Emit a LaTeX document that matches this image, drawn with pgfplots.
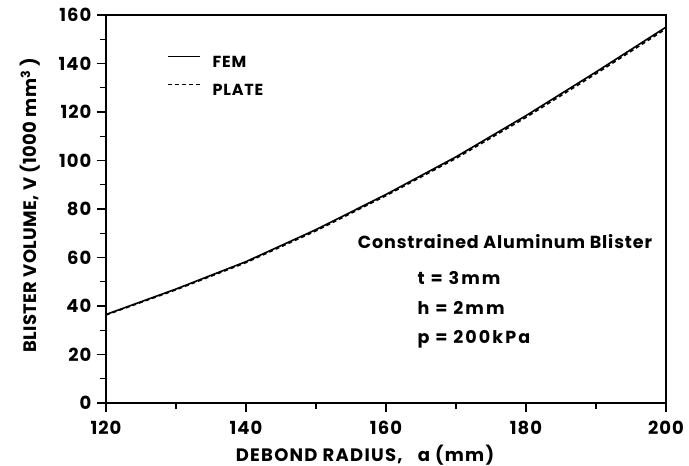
\documentclass[border=0pt]{standalone}
\usepackage{fontspec}
\setmainfont{Poppins}
\newfontfamily\tickf{Poppins}[LetterSpace=6]
\newfontfamily\labf{Poppins}[LetterSpace=7]
\newfontfamily\ylabf{Poppins}[LetterSpace=2]
\newfontfamily\txtf{Poppins}[LetterSpace=5]
\newfontfamily\parf{Poppins}[LetterSpace=12]
\usepackage{pgfplots}
\pgfplotsset{compat=1.18}
\begin{document}
\begin{tikzpicture}
\begin{axis}[
  scale only axis, width=560pt, height=388pt,
  xmin=120, xmax=200, ymin=0, ymax=160,
  axis line style={line width=1.6pt},
  xtick={120,140,...,200}, ytick={0,20,...,160},
  minor xtick={130,150,170,190}, minor ytick={10,30,...,150},
  tick align=outside, xtick pos=bottom, ytick pos=left,
  major tick length=9pt, minor tick length=6pt,
  tick style={line width=1.4pt, black},
  /pgf/number format/assume math mode=true,
  ticklabel style={font=\fontsize{18}{20}\tickf\bfseries},
  xticklabel style={anchor=base, yshift=-22pt},
  yticklabel style={anchor=east, xshift=-2pt},
  xlabel={DEBOND RADIUS,\ \ \ a (mm)},
  ylabel={BLISTER VOLUME, V (1000 mm\textsuperscript{3} )},
  xlabel style={font=\fontsize{18}{20}\labf\bfseries, at={(rel axis cs:0.4625,0)}, anchor=base, yshift=-58pt},
  ylabel style={font=\fontsize{18}{20}\ylabf\bfseries, at={(rel axis cs:0,0.51)}, anchor=center, yshift=76pt},
  legend style={draw=none, fill=none, at={(rel axis cs:0.109,0.895)}, anchor=north west,
    inner sep=0pt, outer sep=0pt,
    nodes={inner sep=0pt, text height=11pt, text depth=0pt, font=\fontsize{16}{18}\txtf\bfseries},
    row sep=16pt},
  legend cell align=left,
  legend image code/.code={\draw[#1, line width=1.6pt] (0pt,5.5pt) -- (32pt,5.5pt);},
]
\addplot[black, line width=1.6pt] coordinates {
(120,36.5) (130,47) (140,58.3) (150,71.5) (160,86) (170,101.5) (180,118.5) (190,136.5) (200,155)};
\addlegendentry{\hspace{12pt}FEM}
\addplot[black, dash pattern=on 4pt off 3pt, line width=1.6pt] coordinates {
(120,36.3) (130,46.7) (140,57.9) (150,71) (160,85.5) (170,100.9) (180,117.8) (190,135.8) (200,154.3)};
\addlegendentry{\hspace{12pt}PLATE}
\node[anchor=base, font=\fontsize{17.5}{20}\txtf\bfseries] at (axis cs:177,63.9) {Constrained Aluminum Blister};
\node[anchor=base west, inner sep=0pt, font=\fontsize{17.5}{20}\parf\bfseries] at (axis cs:164.5,48.7) {t = 3mm};
\node[anchor=base west, inner sep=0pt, font=\fontsize{17.5}{20}\parf\bfseries] at (axis cs:164.5,36.7) {h = 2mm};
\node[anchor=base west, inner sep=0pt, font=\fontsize{17.5}{20}\parf\bfseries] at (axis cs:164.5,24.7) {p = 200kPa};
\end{axis}
\pgfresetboundingbox
\path (-106pt,-63pt) rectangle (583pt,403pt);
\end{tikzpicture}
\end{document}
